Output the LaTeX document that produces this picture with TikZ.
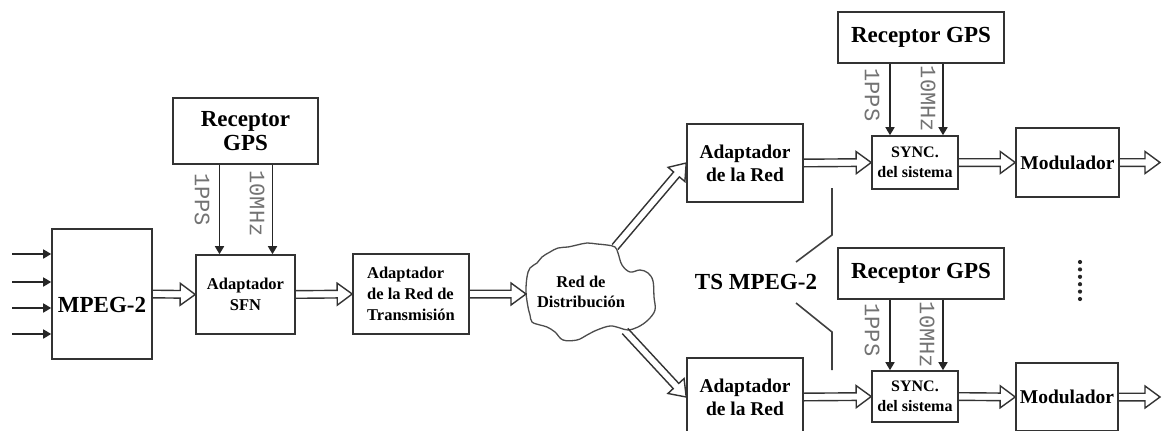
\documentclass[tikz,border=0pt]{standalone}
\usepackage{fontspec}
\setmainfont{Liberation Serif}
\newfontfamily\monof{Liberation Mono}
\usetikzlibrary{arrows.meta,calc}

\tikzset{
  blk/.style={draw=black!80, line width=1.6pt, inner sep=0pt, align=center},
  fbig/.style={font=\fontsize{23}{24}\selectfont\bfseries},
  fmid/.style={font=\fontsize{19.5}{23}\selectfont\bfseries},
  fsmall/.style={font=\fontsize{16.5}{21}\selectfont\bfseries},
  fsync/.style={font=\fontsize{16}{20}\selectfont\bfseries},
  sig/.style={draw=black!85, line width=1.6pt, -{Triangle[length=8pt,width=9pt]}},
  lbl/.style={font=\fontsize{22}{22}\selectfont\monof, text=black!55, rotate=-90, inner sep=0pt},
  thinline/.style={draw=black!75, line width=1.6pt},
  % open double-line arrow between two points
  hollow/.style={draw=black!80, line width=1.4pt, line join=miter, to path={
    ($(\tikztostart)!3.8pt!90:(\tikztotarget)$)
    -- ($($(\tikztotarget)!15pt!(\tikztostart)$)!3.8pt!90:(\tikztotarget)$)
    -- ($($(\tikztotarget)!15pt!(\tikztostart)$)!11pt!90:(\tikztotarget)$)
    -- (\tikztotarget)
    -- ($($(\tikztotarget)!15pt!(\tikztostart)$)!11pt!-90:(\tikztotarget)$)
    -- ($($(\tikztotarget)!15pt!(\tikztostart)$)!3.8pt!-90:(\tikztotarget)$)
    -- ($(\tikztostart)!3.8pt!-90:(\tikztotarget)$)
  }},
}

\begin{document}
\begin{tikzpicture}[x=1pt,y=-1pt]
\clip (0,0) rectangle (1162,431);
\fill[white] (0,0) rectangle (1162,431);

% head-end chain
\node[blk, fbig, minimum width=145, minimum height=66] (gpsL) at (245.5,131) {Receptor\\GPS};
\node[blk, fbig, minimum width=100, minimum height=130, text height=37pt, text depth=0pt] (mpeg) at (102,294) {MPEG-2};
\node[blk, fsmall, minimum width=99, minimum height=79] (sfn) at (245.5,294.5) {Adaptador\\SFN};
\node[blk, fsmall, align=left, minimum width=116, minimum height=80] (trans) at (411,294) {Adaptador\\de la Red de\\Transmisión};

% distribution network
\draw[draw=black!70, line width=1.3pt] plot[smooth cycle, tension=0.6] coordinates {
  (526,292) (527,277) (530,268) (537,263) (542,257) (550,252) (558,248) (568,247)
  (577,245) (587,243) (597,244) (607,245) (615,247) (618,253) (622,265) (630,272)
  (640,270) (648,273) (653,281) (654,297) (655,310) (648,320) (638,327) (628,330)
  (620,328) (610,326) (597,330) (587,335) (577,340) (563,340) (555,332) (547,327)
  (540,325) (532,322) (530,315) (528,307)};
\node[fsmall, align=center, font=\fontsize{16.5}{20}\selectfont\bfseries] (net) at (581,292) {Red de\\Distribución};
\coordinate (cloudW) at (526,294);
\coordinate (cloudNE) at (615,247);
\coordinate (cloudSE) at (625,331);

% transmitter sites
\node[blk, fbig, minimum width=166, minimum height=51] (gpsT) at (921,37.5) {Receptor GPS};
\node[blk, fmid, minimum width=116, minimum height=78] (redA) at (745,163) {Adaptador\\de la Red};
\node[blk, fsync, minimum width=86, minimum height=53] (syncA) at (915,162.5) {SYNC.\\del sistema};
\node[blk, fmid, minimum width=103, minimum height=69] (modA) at (1067.5,162.5) {Modulador};

\node[blk, fbig, minimum width=166, minimum height=51] (gpsB) at (921,273.5) {Receptor GPS};
\node[blk, fmid, minimum width=116, minimum height=78] (redB) at (745,397) {Adaptador\\de la Red};
\node[blk, fsync, minimum width=86, minimum height=51] (syncB) at (915,396.5) {SYNC.\\del sistema};
\node[blk, fmid, minimum width=102, minimum height=68] (modB) at (1067,397) {Modulador};

\coordinate (outA) at (1160,162.5);
\coordinate (outB) at (1160,397);

% transport stream inputs
\foreach \i/\yy in {1/254,2/282,3/308,4/334} {
  \coordinate (in\i) at (12,\yy);
  \draw[sig] (in\i) -- (in\i -| mpeg.west);
}

% timing references
\coordinate (ppsL) at ([xshift=-26pt]gpsL.south);
\coordinate (mhzL) at ([xshift=27pt]gpsL.south);
\draw[sig] (ppsL) -- (ppsL |- sfn.north);
\draw[sig] (mhzL) -- (mhzL |- sfn.north);
\coordinate (ppsT) at ([xshift=-31pt]gpsT.south);
\coordinate (mhzT) at ([xshift=22pt]gpsT.south);
\draw[sig] (ppsT) -- (ppsT |- syncA.north);
\draw[sig] (mhzT) -- (mhzT |- syncA.north);
\coordinate (ppsB) at ([xshift=-31pt]gpsB.south);
\coordinate (mhzB) at ([xshift=22pt]gpsB.south);
\draw[sig] (ppsB) -- (ppsB |- syncB.north);
\draw[sig] (mhzB) -- (mhzB |- syncB.north);

\node[lbl] (lppsL) at (202,199.5) {1PPS};
\node[lbl] (lmhzL) at (257,203.5) {10MHz};
\node[lbl] (lppsT) at (872,95) {1PPS};
\node[lbl] (lmhzT) at (928,99) {10MHz};
\node[lbl] (lppsB) at (872,330) {1PPS};
\node[lbl] (lmhzB) at (927,335) {10MHz};

% data flow
\draw[hollow] (mpeg.east) to (sfn.west);
\draw[hollow] (sfn.east) to (trans.west);
\draw[hollow] (trans.east) to (cloudW);
\draw[hollow] (cloudNE) to (redA.west);
\draw[hollow] (cloudSE) to (redB.west);
\draw[hollow] (redA.east) to (syncA.west);
\draw[hollow] (syncA.east) to (modA.west);
\draw[hollow] (modA.east) to (outA);
\draw[hollow] (redB.east) to (syncB.west);
\draw[hollow] (syncB.east) to (modB.west);
\draw[hollow] (modB.east) to (outB);

% TS MPEG-2 bracket
\coordinate (t1) at (832,188);
\coordinate (t2) at (832,235);
\coordinate (t3) at (796,262);
\coordinate (b1) at (796,303);
\coordinate (b2) at (832,332);
\coordinate (b3) at (832,370);
\draw[thinline] (t1) -- (t2) -- (t3);
\draw[thinline] (b1) -- (b2) -- (b3);
\node[fbig] (ts) at (756,282) {TS MPEG-2};

% further sites
\foreach \k in {0,...,5} \fill[black!85] (1080,262+\k*7.4) circle (2.1);
\end{tikzpicture}
\end{document}
